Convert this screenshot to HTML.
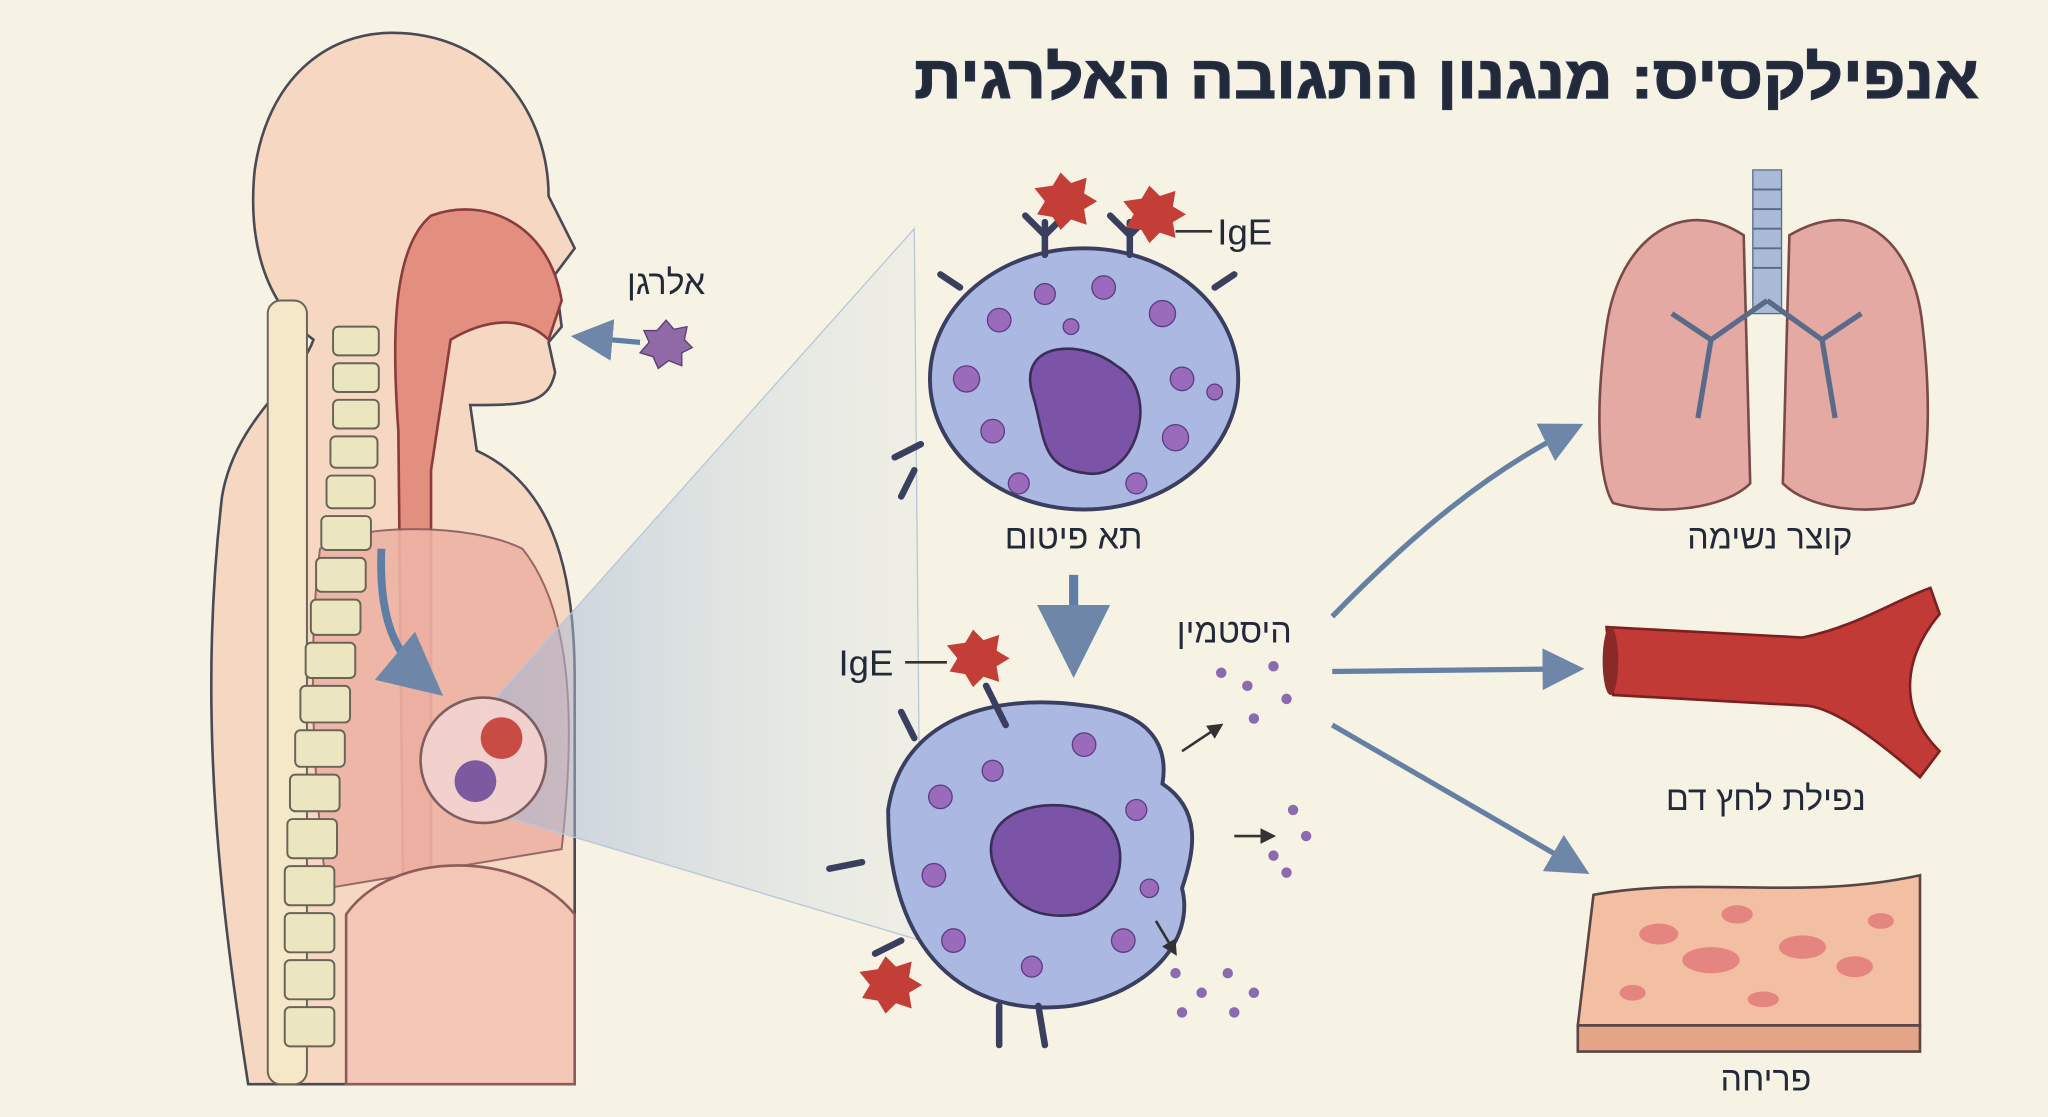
<!DOCTYPE html>
<html><head><meta charset="utf-8"><style>
html,body{margin:0;padding:0;background:#f6f3e4;}
svg{display:block;}
text{font-family:"Liberation Sans","DejaVu Sans",sans-serif;fill:#222a3a;}
</style></head><body>
<svg width="2048" height="1117" viewBox="0 0 1568 855" xmlns="http://www.w3.org/2000/svg">
<defs>
<linearGradient id="cone" x1="0" x2="1" y1="0" y2="0"><stop offset="0" stop-color="#9fb5d4" stop-opacity="0.6"/><stop offset="1" stop-color="#c9d6e6" stop-opacity="0.15"/></linearGradient>
<marker id="ah" markerWidth="8" markerHeight="8" refX="6" refY="4" orient="auto"><path d="M0,0L8,4L0,8z" fill="#6e86a8"/></marker>
<marker id="sa" markerWidth="6" markerHeight="6" refX="5" refY="3" orient="auto"><path d="M0,0L6,3L0,6z" fill="#333"/></marker>
</defs>
<rect width="1568" height="855" fill="#f6f3e4"/>
<text x="1515" y="75" text-anchor="end" font-size="46" font-weight="bold" fill="#26304a" textLength="815" lengthAdjust="spacingAndGlyphs" stroke="#26304a" stroke-width="1">אנפילקסיס: מנגנון התגובה האלרגית</text>

<path d="M300,25 C380,25 420,90 420,150 L440,190 L425,210 L430,250 L420,262 L425,285 C420,310 400,310 360,310 L365,345 C420,370 440,430 440,520 L440,830 L190,830 C170,700 150,550 170,380 C180,320 230,290 240,260 C200,230 190,180 195,130 C205,60 250,25 300,25Z" fill="#f5d7c2" stroke="#4a4a55" stroke-width="2"/>
<path d="M330,165 C370,150 420,170 430,230 L420,260 C400,240 370,245 345,260 L330,360 L330,820 L310,820 L305,330 C300,260 300,190 330,165Z" fill="#e28f80" stroke="#8a3b3b" stroke-width="2"/>
<path d="M245,420 C270,400 360,400 400,420 C440,470 440,560 430,650 L250,680 C240,600 235,500 245,420Z" fill="#eeb3a5" stroke="#8d5b5b" stroke-width="1.5" opacity="0.9"/>
<path d="M265,700 C300,650 400,650 440,700 L440,830 L265,830Z" fill="#f3c6b5" stroke="#8d5b5b" stroke-width="2"/>
<g fill="#ece6c0" stroke="#6a6458" stroke-width="1.5">
<rect x="205" y="230" width="30" height="600" rx="10" fill="#f5e8c8"/>
<rect x="255" y="250" width="35" height="22" rx="4"/><rect x="255" y="278" width="35" height="22" rx="4"/><rect x="255" y="306" width="35" height="22" rx="4"/><rect x="253" y="334" width="36" height="24" rx="4"/><rect x="250" y="364" width="37" height="25" rx="4"/><rect x="246" y="395" width="38" height="26" rx="4"/><rect x="242" y="427" width="38" height="26" rx="4"/><rect x="238" y="459" width="38" height="27" rx="4"/><rect x="234" y="492" width="38" height="27" rx="4"/><rect x="230" y="525" width="38" height="28" rx="4"/><rect x="226" y="559" width="38" height="28" rx="4"/><rect x="222" y="593" width="38" height="28" rx="4"/><rect x="220" y="627" width="38" height="30" rx="4"/><rect x="218" y="663" width="38" height="30" rx="4"/><rect x="218" y="699" width="38" height="30" rx="4"/><rect x="218" y="735" width="38" height="30" rx="4"/><rect x="218" y="771" width="38" height="30" rx="4"/>
</g>
<path d="M292,420 C290,470 300,500 330,525" fill="none" stroke="#5f7ea6" stroke-width="6" marker-end="url(#ah)"/>
<path d="M490,262 L445,258" stroke="#5f7ea6" stroke-width="4" marker-end="url(#ah)"/>
<text x="510" y="225" text-anchor="middle" font-size="26">אלרגן</text>
<polygon points="510,245 516,252 526,250 524,260 530,266 522,270 522,280 512,276 504,282 500,273 490,270 497,262 493,253 503,253" fill="#8f6aa6" stroke="#5a3d70"/>

<polygon points="370,545 700,175 705,720 370,620" fill="url(#cone)" stroke="#b8c6d8"/>
<circle cx="370" cy="582" r="48" fill="#f3d3d0" stroke="#7a5a5a" stroke-width="2" opacity="0.95"/>
<circle cx="384" cy="565" r="16" fill="#c94c44"/><circle cx="364" cy="598" r="16" fill="#7d5aa0"/>

<ellipse cx="830" cy="290" rx="118" ry="100" fill="#aab8e2" stroke="#3a3f60" stroke-width="3"/>
<path d="M790,300 C780,260 830,260 855,280 C890,300 870,370 830,362 C795,358 800,330 790,300Z" fill="#7b54a8" stroke="#3a2e55" stroke-width="2"/>
<g fill="#9a6bbb" stroke="#5a3d80">
<circle cx="765" cy="245" r="9"/><circle cx="800" cy="225" r="8"/><circle cx="845" cy="220" r="9"/><circle cx="890" cy="240" r="10"/><circle cx="905" cy="290" r="9"/><circle cx="740" cy="290" r="10"/><circle cx="760" cy="330" r="9"/><circle cx="900" cy="335" r="10"/><circle cx="870" cy="370" r="8"/><circle cx="780" cy="370" r="8"/><circle cx="820" cy="250" r="6"/><circle cx="930" cy="300" r="6"/>
</g>
<g stroke="#3a3f60" stroke-width="5" fill="none" stroke-linecap="round">
<path d="M800,195 L800,170 M800,180 L785,165 M800,180 L815,165"/>
<path d="M865,195 L865,170 M865,180 L850,165 M865,180 L880,165"/>
<path d="M735,220 L720,210 M930,220 L945,210 M705,340 L685,350 M700,360 L690,380"/>
</g>
<polygon points="812,132 820,140 832,136 830,148 840,154 830,160 832,172 820,168 812,176 806,166 794,164 800,154 792,144 806,142" fill="#c43e38"/>
<polygon points="880,142 888,150 900,146 898,158 908,164 898,170 900,182 888,178 880,186 874,176 862,174 868,164 860,154 874,152" fill="#c43e38"/>
<line x1="900" y1="177" x2="928" y2="177" stroke="#333" stroke-width="2"/>
<text x="932" y="187" font-size="28">IgE</text>
<text x="822" y="420" text-anchor="middle" font-size="26">תא פיטום</text>
<path d="M822,440 L822,505" stroke="#5f7ea6" stroke-width="7" marker-end="url(#ah)"/>

<path d="M680,620 C690,550 760,530 830,540 C880,545 895,570 890,600 C920,620 915,650 905,680 C915,720 880,760 820,770 C740,780 680,730 680,620Z" fill="#aab8e2" stroke="#3a3f60" stroke-width="3"/>
<path d="M760,660 C750,620 800,610 830,620 C870,630 865,690 825,700 C790,705 770,690 760,660Z" fill="#7b54a8" stroke="#3a2e55" stroke-width="2"/>
<g fill="#9a6bbb" stroke="#5a3d80">
<circle cx="720" cy="610" r="9"/><circle cx="760" cy="590" r="8"/><circle cx="830" cy="570" r="9"/><circle cx="870" cy="620" r="8"/><circle cx="715" cy="670" r="9"/><circle cx="730" cy="720" r="9"/><circle cx="790" cy="740" r="8"/><circle cx="860" cy="720" r="9"/><circle cx="880" cy="680" r="7"/>
</g>
<g fill="#8a6bb0">
<circle cx="935" cy="515" r="4"/><circle cx="955" cy="525" r="4"/><circle cx="975" cy="510" r="4"/><circle cx="985" cy="535" r="4"/><circle cx="960" cy="550" r="4"/><circle cx="990" cy="620" r="4"/><circle cx="1000" cy="640" r="4"/><circle cx="975" cy="655" r="4"/><circle cx="985" cy="668" r="4"/><circle cx="900" cy="745" r="4"/><circle cx="920" cy="760" r="4"/><circle cx="940" cy="745" r="4"/><circle cx="960" cy="760" r="4"/><circle cx="945" cy="775" r="4"/><circle cx="905" cy="775" r="4"/>
</g>
<path d="M905,575 L935,555" stroke="#333" stroke-width="2" marker-end="url(#sa)"/>
<path d="M945,640 L975,640" stroke="#333" stroke-width="2" marker-end="url(#sa)"/>
<path d="M885,705 L900,730" stroke="#333" stroke-width="2" marker-end="url(#sa)"/>
<g stroke="#3a3f60" stroke-width="5" fill="none" stroke-linecap="round">
<path d="M770,555 L755,525 M700,565 L690,545 M660,660 L635,665 M690,720 L670,730 M765,770 L765,800 M795,770 L800,800"/>
</g>
<polygon points="745,482 753,490 765,486 763,498 773,504 763,510 765,522 753,518 745,526 739,516 727,514 733,504 725,494 739,492" fill="#c43e38"/>
<polygon points="678,732 686,740 698,736 696,748 706,754 696,760 698,772 686,768 678,776 672,766 660,764 666,754 658,744 672,742" fill="#c43e38"/>
<line x1="693" y1="507" x2="725" y2="507" stroke="#333" stroke-width="2"/>
<text x="642" y="517" font-size="28">IgE</text>
<text x="945" y="492" text-anchor="middle" font-size="26">היסטמין</text>

<path d="M1020,472 C1080,410 1140,360 1205,328" fill="none" stroke="#6680a4" stroke-width="4" marker-end="url(#ah)"/>
<path d="M1020,514 L1205,512" stroke="#6680a4" stroke-width="4" marker-end="url(#ah)"/>
<path d="M1020,555 L1210,665" stroke="#6680a4" stroke-width="4" marker-end="url(#ah)"/>

<rect x="1342" y="130" width="22" height="110" fill="#a9bbd6" stroke="#5a6a88"/>
<g stroke="#5a6a88" stroke-width="1.5"><line x1="1342" y1="145" x2="1364" y2="145"/><line x1="1342" y1="160" x2="1364" y2="160"/><line x1="1342" y1="175" x2="1364" y2="175"/><line x1="1342" y1="190" x2="1364" y2="190"/><line x1="1342" y1="205" x2="1364" y2="205"/></g>
<path d="M1335,180 C1290,150 1240,180 1230,250 C1220,320 1225,370 1235,385 C1270,395 1320,390 1340,370Z" fill="#e4a9a3" stroke="#7a4a4a" stroke-width="2"/>
<path d="M1370,180 C1420,150 1465,180 1472,250 C1480,320 1475,370 1465,385 C1430,395 1385,390 1365,370Z" fill="#e4a9a3" stroke="#7a4a4a" stroke-width="2"/>
<g stroke="#5a6a88" stroke-width="4" fill="none">
<path d="M1353,230 L1310,260 L1280,240 M1310,260 L1300,320 M1353,230 L1395,260 L1425,240 M1395,260 L1405,320"/>
</g>
<text x="1355" y="420" text-anchor="middle" font-size="26">קוצר נשימה</text>

<path d="M1230,480 L1380,488 C1420,480 1450,460 1478,450 L1485,470 C1460,500 1450,540 1485,575 L1470,595 C1430,560 1400,540 1380,540 L1235,532Z" fill="#c23a35" stroke="#7a2020" stroke-width="2"/>
<ellipse cx="1233" cy="506" rx="6" ry="26" fill="#8a2a28"/>
<text x="1352" y="620" text-anchor="middle" font-size="26">נפילת לחץ דם</text>

<path d="M1220,685 C1300,670 1380,690 1470,670 L1470,785 L1208,785Z" fill="#f2bfa3" stroke="#5a4545" stroke-width="2"/>
<rect x="1208" y="785" width="262" height="20" fill="#e4a488" stroke="#5a4545" stroke-width="2"/>
<g fill="#e27777" opacity="0.8">
<ellipse cx="1270" cy="715" rx="15" ry="8"/><ellipse cx="1330" cy="700" rx="12" ry="7"/><ellipse cx="1310" cy="735" rx="22" ry="10"/><ellipse cx="1380" cy="725" rx="18" ry="9"/><ellipse cx="1420" cy="740" rx="14" ry="8"/><ellipse cx="1250" cy="760" rx="10" ry="6"/><ellipse cx="1350" cy="765" rx="12" ry="6"/><ellipse cx="1440" cy="705" rx="10" ry="6"/>
</g>
<text x="1352" y="835" text-anchor="middle" font-size="26">פריחה</text>
</svg>
</body></html>
